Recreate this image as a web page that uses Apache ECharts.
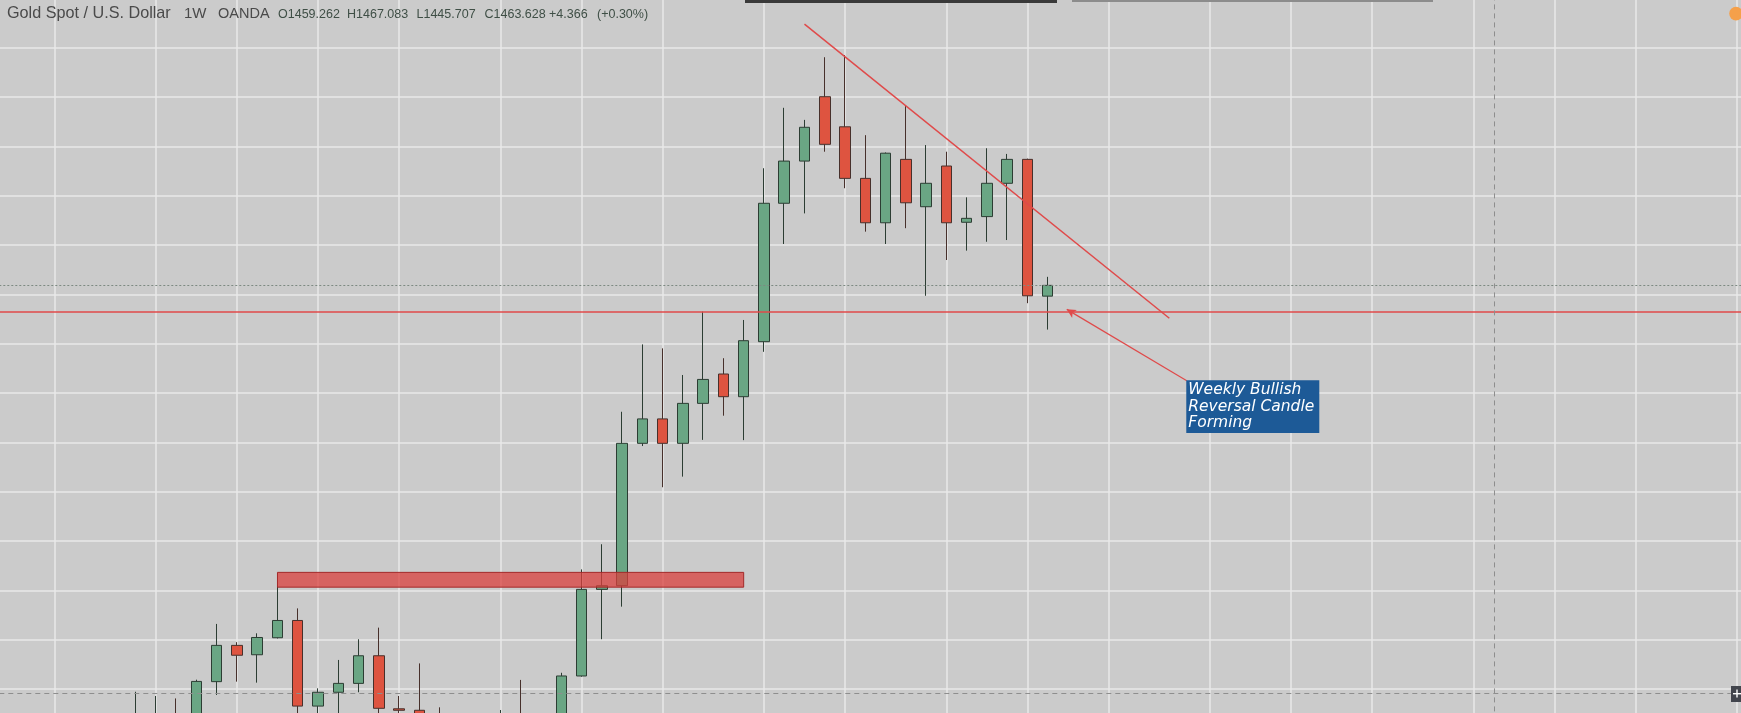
<!DOCTYPE html>
<html><head><meta charset="utf-8">
<script src="https://cdn.jsdelivr.net/npm/echarts@6/dist/echarts.min.js"></script>
<style>html,body{margin:0;padding:0;background:#cbcbcb;overflow:hidden}#c{width:1741px;height:713px}</style>
</head><body><div id="c"></div>
<script>
// Weekly bars (Monday of each week)
const weeks = [
 '2018-11-05','2018-11-12','2018-11-19','2018-11-26','2018-12-03','2018-12-10','2018-12-17','2018-12-24','2018-12-31',
 '2019-01-07','2019-01-14','2019-01-21','2019-01-28','2019-02-04','2019-02-11','2019-02-18','2019-02-25',
 '2019-03-04','2019-03-11','2019-03-18','2019-03-25','2019-04-01','2019-04-08','2019-04-15','2019-04-22','2019-04-29',
 '2019-05-06','2019-05-13','2019-05-20','2019-05-27','2019-06-03','2019-06-10','2019-06-17','2019-06-24',
 '2019-07-01','2019-07-08','2019-07-15','2019-07-22','2019-07-29','2019-08-05','2019-08-12','2019-08-19','2019-08-26',
 '2019-09-02','2019-09-09','2019-09-16','2019-09-23','2019-09-30','2019-10-07','2019-10-14','2019-10-21','2019-10-28',
 '2019-11-04','2019-11-11','2019-11-18','2019-11-25','2019-12-02','2019-12-09','2019-12-16','2019-12-23','2019-12-30',
 '2020-01-06','2020-01-13','2020-01-20','2020-01-27','2020-02-03','2020-02-10','2020-02-17','2020-02-24',
 '2020-03-02','2020-03-09','2020-03-16','2020-03-23','2020-03-30','2020-04-06','2020-04-13','2020-04-20','2020-04-27',
 '2020-05-04','2020-05-11','2020-05-18','2020-05-25','2020-06-01','2020-06-08','2020-06-15','2020-06-22','2020-06-29',
 '2020-07-06','2020-07-13'
];
const opens = [1232,1209,1222,1223,1221,1248,1238,1256,1281,1286,1288,1282,1303.0,1317.7,1313.9,1320.8,1327.8,1293.1,1298.7,1302.3,1313.5,1292.0,1291.4,1290.0,1275.0,1286.0,1281.0,1285.0,1275.0,1284.0,1305.3,1340.4,1341.9,1399.6,1409.5,1399.6,1415.8,1427.7,1418.5,1440.8,1496.9,1514.0,1540.1,1527.9,1507.0,1489.0,1514.7,1495.5,1512.0,1489.2,1491.5,1505.0,1514.7,1459.262];
const highs = [1237,1226,1230,1230,1250,1251,1268,1284,1298.9,1297.2,1296.2,1303.8,1326.4,1319.0,1322.6,1342.0,1332.7,1300.3,1311.8,1320.2,1324.9,1297.2,1310.4,1292.6,1287.0,1287.5,1291.5,1303.7,1287.0,1306.6,1348.5,1358.7,1412.4,1439.7,1438.1,1427.3,1453.0,1434.1,1449.6,1511.1,1535.6,1530.7,1556.1,1557.0,1524.5,1517.5,1536.7,1520.5,1517.8,1499.3,1519.2,1516.9,1515.0,1467.083];
const lows = [1207,1196,1211,1212,1221,1233,1236,1256,1276,1277,1277,1276,1297.6,1303.0,1302.6,1320.5,1289.0,1281.0,1290.0,1298.7,1287.0,1281.0,1282.0,1270.0,1266.0,1267.0,1278.0,1273.0,1269.0,1279.0,1305.0,1320.2,1333.4,1398.5,1381.8,1386.1,1401.0,1410.8,1400.9,1436.7,1480.4,1492.8,1517.8,1503.0,1485.4,1480.4,1486.8,1459.4,1473.9,1477.7,1481.3,1482.0,1456.4,1445.707];
const closes = [1209,1222,1223,1221,1248,1238,1256,1280,1286,1288,1282,1303.1,1317.7,1313.7,1320.9,1327.8,1293.1,1298.7,1302.3,1313.5,1292.2,1291.4,1290.0,1275.0,1286.0,1281.0,1285.0,1275.0,1284.0,1305.3,1340.4,1341.9,1399.6,1409.5,1399.6,1415.8,1425.5,1418.5,1441.2,1496.9,1514.0,1527.7,1520.8,1507.0,1489.0,1517.2,1497.1,1505.0,1489.0,1490.8,1505.0,1514.7,1459.4,1463.628];

// Price scale
const priceMin = 1280, priceMax = 1580, priceStep = 20;
// Drawings (x = week index in `weeks`, y = price)
const supportLevel = 1453;
const lastClose = 1463.628;
const trendLine = [[41, 1569.5], [59, 1450.3]];
const demandZone = [[15, 1347.3], [38, 1341.3]];
const calloutAnchor = [59.86, 1425.0];
const calloutArrow = [[59.86, 1425.0], [53.94, 1453.9]];
const calloutText = 'Weekly Bullish\nReversal Candle\nForming';
const crosshair = [75.03, 1298.3];
// Header texts
const headerMain = ['Gold Spot / U.S. Dollar', '1W', 'OANDA'];
const headerValues = ['O1459.262', 'H1467.083', 'L1445.707', 'C1463.628', '+4.366', '(+0.30%)'];

const candleData = weeks.map((w, i) => i < opens.length ? [opens[i], closes[i], lows[i], highs[i]] : '-');
const monthStarts = weeks.map((d, i) => (i > 0 && d.slice(5, 7) !== weeks[i - 1].slice(5, 7)) ? i : null).filter(v => v !== null);

const chart = echarts.init(document.getElementById('c'), null, {renderer: 'canvas'});
const red = '#e04a4a';
const hdrX = [7, 184, 218];
const hdrSize = [16.2, 15, 14.5];
const valX = [278, 347, 416.5, 484.5, 549, 597];

const graphics = [];
headerMain.forEach((t, i) => graphics.push({type: 'text', left: hdrX[i], top: 5.5 + (16.2 - hdrSize[i]) * 0.8, z: 100,
  style: {text: t, fill: '#4a4a4a', font: hdrSize[i] + 'px "Liberation Sans", Arial, sans-serif'}}));
headerValues.forEach((t, i) => graphics.push({type: 'text', left: valX[i], top: 8.5, z: 100,
  style: {text: t, fill: '#3f4f46', font: '12.5px "Liberation Sans", Arial, sans-serif'}}));
graphics.push({type: 'rect', left: 745, top: 0, shape: {width: 312, height: 3}, style: {fill: '#3a3a3a'}, z: 100});
graphics.push({type: 'rect', left: 1072, top: 0, shape: {width: 361, height: 2}, style: {fill: '#8c8c8c'}, z: 100});
graphics.push({type: 'circle', shape: {cx: 1736, cy: 13.6, r: 6.8}, style: {fill: '#f5a04a'}, z: 100});
graphics.push({type: 'rect', shape: {x: 1731, y: 686, width: 10, height: 16}, style: {fill: '#42454d'}, z: 100});
graphics.push({type: 'rect', shape: {x: 1733, y: 693, width: 8, height: 1.4}, style: {fill: '#ffffff'}, z: 101});
graphics.push({type: 'rect', shape: {x: 1736.3, y: 689.5, width: 1.4, height: 8}, style: {fill: '#ffffff'}, z: 101});

const option = {
  animation: false,
  backgroundColor: '#cbcbcb',
  grid: {left: -36.7, right: -26.3, top: -1.74, bottom: -25.4, containLabel: false, outerBoundsMode: 'none'},
  xAxis: [
    {type: 'category', data: weeks, boundaryGap: true, show: false},
    {type: 'value', min: -0.5, max: weeks.length - 0.5, show: false, splitLine: {show: false}}
  ],
  yAxis: {
    type: 'value', min: priceMin, max: priceMax, interval: priceStep, scale: true,
    axisLabel: {show: false}, axisLine: {show: false}, axisTick: {show: false},
    splitLine: {show: true, lineStyle: {color: '#e9e9e9', width: 1.5}}
  },
  graphic: graphics,
  series: [
    {
      name: 'monthGrid', type: 'line', xAxisIndex: 1, data: [], z: 0, silent: true,
      markLine: {silent: true, z: 0, symbol: 'none', label: {show: false},
        lineStyle: {color: '#e9e9e9', width: 1.5, type: 'solid'},
        data: monthStarts.map(i => ({xAxis: i}))}
    },
    {
      name: 'XAUUSD', type: 'candlestick', xAxisIndex: 0, data: candleData, z: 2, barWidth: 11,
      itemStyle: {color: '#6aa684', color0: '#de5440', borderColor: '#2c3d33', borderColor0: '#47302b', borderWidth: 1}
    },
    {
      name: 'drawings', type: 'line', xAxisIndex: 1, data: [], z: 5, silent: true,
      markArea: {silent: true, z: 5, itemStyle: {color: 'rgba(217,64,61,0.75)', borderColor: '#a32a2a', borderWidth: 1},
        label: {show: false},
        data: [[{coord: demandZone[0]}, {coord: demandZone[1]}]]},
      markLine: {silent: true, z: 6, symbol: 'none', label: {show: false}, animation: false,
        data: [
          {yAxis: lastClose, lineStyle: {color: '#7d8a82', width: 1, type: [2, 2]}},
          {yAxis: supportLevel, lineStyle: {color: red, width: 1.5, type: 'solid'}},
          [{coord: trendLine[0], lineStyle: {color: red, width: 1.5, type: 'solid'}}, {coord: trendLine[1]}],
          [{coord: calloutArrow[0], symbol: 'none', lineStyle: {color: red, width: 1.2, type: 'solid'}},
           {coord: calloutArrow[1], symbol: 'arrow', symbolSize: [7, 9]}],
          {xAxis: crosshair[0], lineStyle: {color: '#8e8e8e', width: 1, type: [5, 4]}},
          {yAxis: crosshair[1], lineStyle: {color: '#8e8e8e', width: 1, type: [5, 4]}}
        ]}
    },
    {
      name: 'callout', type: 'scatter', xAxisIndex: 1, z: 8, silent: true,
      symbol: 'rect', symbolSize: 1, itemStyle: {color: 'rgba(0,0,0,0)', opacity: 1},
      data: [calloutAnchor],
      label: {show: true, position: [0, 0], align: 'left', verticalAlign: 'top', opacity: 1,
        formatter: calloutText, color: '#ffffff', fontStyle: 'italic',
        fontFamily: '"DejaVu Sans", Verdana, sans-serif', fontSize: 15.5, lineHeight: 16.3,
        backgroundColor: '#1d5a97', padding: [2, 5, 2, 2]}
    }
  ]
};
chart.setOption(option);
</script>
</body></html>
